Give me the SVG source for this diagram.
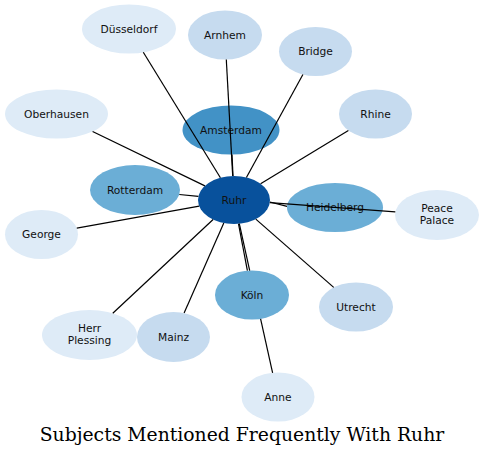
<svg xmlns="http://www.w3.org/2000/svg" width="484" height="457" viewBox="0 0 484 457">
<style>
.n text{font-family:"DejaVu Sans",sans-serif;font-size:10.67px;fill:#111;text-anchor:middle;dominant-baseline:central}
.l1{fill:#deebf7}.l2{fill:#c6dbef}.l3{fill:#6baed6}.l4{fill:#4292c6}.l5{fill:#08519c}
#edges line{stroke:#000;stroke-width:1.2;fill:none}
.title{font-family:"DejaVu Serif",serif;font-size:18.8px;fill:#000;text-anchor:middle}
</style>
<rect width="484" height="457" fill="#fff"/>
<g id="nodes">
<g id="n-dusseldorf" class="n"><ellipse class="l1" cx="129" cy="29" rx="47" ry="24.5"/><text x="129" y="29">Düsseldorf</text></g>
<g id="n-arnhem" class="n"><ellipse class="l2" cx="225" cy="35" rx="37" ry="24.5"/><text x="225" y="35">Arnhem</text></g>
<g id="n-bridge" class="n"><ellipse class="l2" cx="315.5" cy="51.5" rx="36.5" ry="24.5"/><text x="315.5" y="51.5">Bridge</text></g>
<g id="n-oberhausen" class="n"><ellipse class="l1" cx="56.5" cy="114" rx="51.5" ry="24.5"/><text x="56.5" y="114">Oberhausen</text></g>
<g id="n-rhine" class="n"><ellipse class="l2" cx="375.5" cy="114" rx="36.5" ry="24.5"/><text x="375.5" y="114">Rhine</text></g>
<g id="n-amsterdam" class="n"><ellipse class="l4" cx="231" cy="130" rx="48.5" ry="24.5"/><text x="231" y="130">Amsterdam</text></g>
<g id="n-rotterdam" class="n"><ellipse class="l3" cx="135" cy="190" rx="45" ry="25"/><text x="135" y="190">Rotterdam</text></g>
<g id="n-george" class="n"><ellipse class="l1" cx="41.5" cy="234.5" rx="36.5" ry="24.5"/><text x="41.5" y="234.5">George</text></g>
<g id="n-heidelberg" class="n"><ellipse class="l3" cx="335" cy="207.5" rx="48" ry="24.5"/><text x="335" y="207">Heidelberg</text></g>
<g id="n-peacepalace" class="n"><ellipse class="l1" cx="437" cy="215" rx="42" ry="25"/><text x="437" y="208.5">Peace</text><text x="437" y="220.5">Palace</text></g>
<g id="n-koln" class="n"><ellipse class="l3" cx="252" cy="295" rx="37" ry="24.5"/><text x="252" y="295">Köln</text></g>
<g id="n-utrecht" class="n"><ellipse class="l2" cx="356" cy="307" rx="37" ry="24.5"/><text x="356" y="307">Utrecht</text></g>
<g id="n-herrplessing" class="n"><ellipse class="l1" cx="89.5" cy="335" rx="47.5" ry="25"/><text x="89.5" y="328.5">Herr</text><text x="89.5" y="340.5">Plessing</text></g>
<g id="n-mainz" class="n"><ellipse class="l2" cx="173.5" cy="337" rx="36.5" ry="25"/><text x="173.5" y="337">Mainz</text></g>
<g id="n-anne" class="n"><ellipse class="l1" cx="278" cy="397" rx="36.5" ry="24.5"/><text x="278" y="397">Anne</text></g>
<g id="n-ruhr" class="n"><ellipse class="l5" cx="234" cy="200" rx="36" ry="24"/><text x="234" y="200">Ruhr</text></g>
</g>
<g id="edges">
<line x1="220.4" y1="177.8" x2="143.3" y2="52.3"/>
<line x1="232.7" y1="176" x2="226.3" y2="59.5"/>
<line x1="246.4" y1="177.5" x2="302.9" y2="74.5"/>
<line x1="204.9" y1="185.9" x2="92.6" y2="131.5"/>
<line x1="260.6" y1="183.8" x2="348.4" y2="130.4"/>
<line x1="233" y1="176" x2="232" y2="154.5"/>
<line x1="198.4" y1="196.4" x2="179.3" y2="194.5"/>
<line x1="199.2" y1="206.2" x2="76.8" y2="228.2"/>
<line x1="269.9" y1="202" x2="287" y2="206.3"/>
<line x1="269.8" y1="202.6" x2="395.3" y2="211.9"/>
<line x1="238.5" y1="223.8" x2="247.4" y2="270.7"/>
<line x1="239.3" y1="223.7" x2="249.7" y2="270.6"/>
<line x1="260.6" y1="318.8" x2="272.6" y2="372.8"/>
<line x1="255.8" y1="219.1" x2="333.7" y2="287.4"/>
<line x1="213.1" y1="219.5" x2="112.8" y2="313.2"/>
<line x1="223.8" y1="223" x2="184.1" y2="313.1"/>
</g>
<text class="title" x="242" y="441">Subjects Mentioned Frequently With Ruhr</text>
</svg>
